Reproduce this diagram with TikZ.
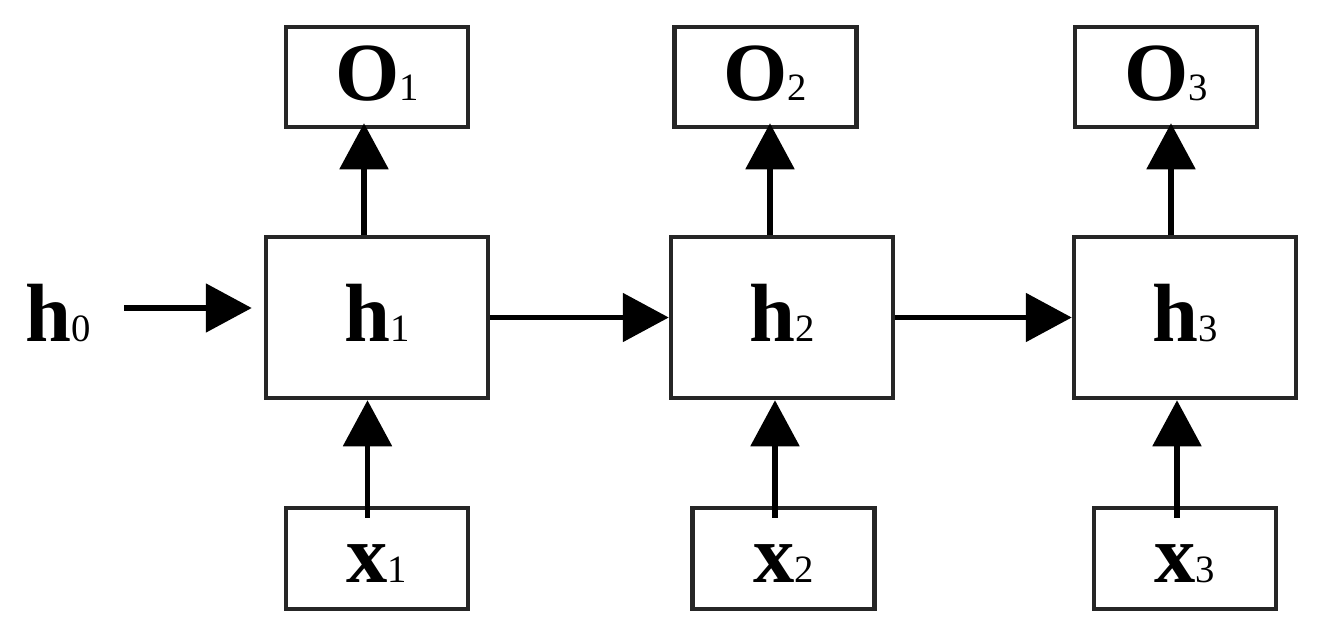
\documentclass[tikz,border=0pt]{standalone}
\usepackage{fontspec}
\setmainfont{Liberation Serif}
\usepackage{tikz}
\usetikzlibrary{arrows.meta, positioning}
\newcommand{\subidx}[1]{{\fontsize{22}{22}\mdseries\selectfont #1}}

\begin{document}
\begin{tikzpicture}[
    node distance=2.11cm,
    lbl/.style={inner sep=0pt, text height=1.1cm, text depth=0.14cm, font=\fontsize{47}{50}\selectfont\bfseries},
    hbox/.style={lbl, rectangle, draw=black!85, line width=0.09cm, minimum width=4.44cm, minimum height=3.22cm},
    obox/.style={hbox, minimum width=3.64cm, minimum height=2cm},
    xbox/.style={hbox, minimum width=3.64cm, minimum height=2.02cm},
    arrow/.style={-{Triangle[length=0.92cm, width=0.96cm]}, line width=0.11cm}
]
\useasboundingbox (0,0) rectangle (26.5,12.72);

% Cellules cachées
\node[hbox] (h1) at (7.54,6.37) {h\subidx{1}};
\node[hbox, right=3.57cm of h1] (h2) {h\subidx{2}};
\node[hbox, right=3.53cm of h2] (h3) {h\subidx{3}};

% Sorties
\node[obox, above=of h1] (o1) {O\subidx{1}};
\node[obox, above=of h2, xshift=-0.33cm] (o2) {O\subidx{2}};
\node[obox, above=of h3, xshift=-0.38cm] (o3) {O\subidx{3}};

% Entrées
\node[xbox, below=of h1] (x1) {x\subidx{1}};
\node[xbox, below=of h2, xshift=0.03cm] (x2) {x\subidx{2}};
\node[xbox, below=of h3] (x3) {x\subidx{3}};

% État initial
\node[lbl, left=3.4cm of h1, xshift=-0.05cm] (h0) {h\subidx{0}};

% Flèches horizontales
\draw[arrow, shorten <=0.66cm, shorten >=0.24cm] ([yshift=0.19cm]h0.east) -- ([yshift=0.19cm]h1.west);
\draw[arrow] (h1) -- (h2);
\draw[arrow] (h2) -- (h3);

% Flèches vers les sorties
\draw[arrow, shorten >=-0.12cm] ([xshift=-0.26cm]h1.north) -- ([xshift=-0.26cm]h1.north |- o1.south);
\draw[arrow, shorten >=-0.12cm] ([xshift=-0.24cm]h2.north) -- ([xshift=-0.24cm]h2.north |- o2.south);
\draw[arrow, shorten >=-0.12cm] ([xshift=-0.28cm]h3.north) -- ([xshift=-0.28cm]h3.north |- o3.south);

% Flèches depuis les entrées
\draw[arrow] ([xshift=-0.19cm, yshift=-0.24cm]x1.north) -- ([xshift=-0.19cm]x1.north |- h1.south);
\draw[arrow] ([xshift=-0.17cm, yshift=-0.24cm]x2.north) -- ([xshift=-0.17cm]x2.north |- h2.south);
\draw[arrow] ([xshift=-0.16cm, yshift=-0.24cm]x3.north) -- ([xshift=-0.16cm]x3.north |- h3.south);
\end{tikzpicture}
\end{document}
